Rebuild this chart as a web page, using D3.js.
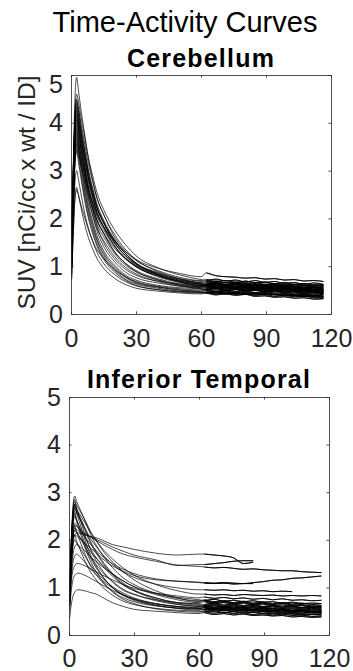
<!DOCTYPE html>
<html>
<head>
<meta charset="utf-8">
<script src="https://cdn.jsdelivr.net/npm/d3@7"></script>
<style>
  html, body { margin: 0; padding: 0; background: #fff; }
  svg { display: block; font-family: "Liberation Sans", Arial, Helvetica, sans-serif; }
</style>
</head>
<body>
<svg id="chart" width="353" height="671"></svg>
<script>
// Frame mid-times (minutes): dynamic uptake scan, then the late scan
const frameTimesEarly = [0.3, 1, 1.75, 2.6, 3.5, 4.5, 6, 8, 10, 12, 15, 20, 25, 30, 40, 50, 60];
const frameTimesLate = [62.5, 67, 71.5, 76, 80.5, 85, 89.5, 94, 98.5, 103, 107.5, 112, 116.5];

const xTicks = [0, 30, 60, 90, 120];
const yTicks = [0, 1, 2, 3, 4, 5];

// Cerebellum SUV, one row per subject (uptake scan)
const cerebellumEarly = [
  [1.37,3.04,4.41,4.95,4.66,4.31,3.85,3.26,2.80,2.42,2.09,1.62,1.32,1.12,0.91,0.77,0.70],
  [1.29,2.85,4.14,4.60,4.43,4.15,3.79,3.28,2.89,2.54,2.19,1.77,1.46,1.22,0.97,0.82,0.72],
  [1.26,2.79,4.05,4.50,4.28,3.96,3.54,3.00,2.58,2.23,1.93,1.50,1.23,1.04,0.85,0.73,0.66],
  [1.25,2.76,4.00,4.45,4.28,4.01,3.65,3.15,2.77,2.43,2.09,1.67,1.36,1.14,0.89,0.74,0.64],
  [1.60,2.90,3.96,4.40,4.19,3.88,3.47,2.95,2.54,2.21,1.91,1.50,1.23,1.05,0.87,0.74,0.68],
  [1.22,2.70,3.92,4.35,4.05,3.68,3.15,2.59,2.18,1.84,1.50,1.16,0.94,0.81,0.69,0.63,0.60],
  [1.00,2.67,3.87,4.30,4.09,3.78,3.38,2.86,2.46,2.13,1.83,1.43,1.16,0.99,0.80,0.68,0.62],
  [1.19,2.64,3.83,4.25,4.08,3.83,3.48,3.00,2.64,2.30,1.97,1.57,1.28,1.06,0.82,0.67,0.58],
  [1.70,2.90,3.78,4.20,4.00,3.70,3.31,2.82,2.43,2.11,1.82,1.43,1.18,1.01,0.83,0.71,0.65],
  [1.16,2.57,3.74,4.15,3.86,3.50,3.00,2.46,2.07,1.74,1.42,1.10,0.88,0.76,0.65,0.59,0.56],
  [2.00,3.00,3.70,4.10,3.94,3.70,3.37,2.91,2.56,2.25,1.93,1.55,1.27,1.06,0.83,0.69,0.60],
  [1.13,2.51,3.65,4.05,3.85,3.56,3.17,2.68,2.30,1.98,1.70,1.31,1.06,0.89,0.72,0.60,0.54],
  [1.12,2.48,3.60,4.00,3.85,3.61,3.29,2.85,2.52,2.21,1.91,1.54,1.27,1.07,0.85,0.71,0.63],
  [1.50,2.60,3.55,3.95,3.76,3.48,3.11,2.63,2.26,1.96,1.69,1.31,1.07,0.91,0.74,0.63,0.57],
  [1.09,2.42,3.51,3.90,3.63,3.29,2.82,2.31,1.94,1.64,1.33,1.03,0.82,0.71,0.60,0.55,0.52],
  [1.08,2.39,3.47,3.85,3.70,3.48,3.17,2.75,2.42,2.13,1.84,1.48,1.22,1.02,0.81,0.68,0.60],
  [1.06,2.36,3.42,3.80,3.62,3.35,2.99,2.53,2.18,1.88,1.62,1.27,1.03,0.88,0.71,0.61,0.55],
  [1.40,2.50,3.38,3.75,3.49,3.17,2.71,2.22,1.87,1.57,1.28,0.99,0.79,0.68,0.58,0.53,0.50],
  [1.04,2.29,3.33,3.70,3.56,3.34,3.04,2.64,2.33,2.05,1.77,1.42,1.17,0.99,0.78,0.66,0.58],
  [1.02,2.26,3.29,3.65,3.40,3.08,2.64,2.16,1.81,1.53,1.24,0.96,0.77,0.65,0.56,0.51,0.48],
  [1.80,2.70,3.25,3.60,3.43,3.17,2.83,2.40,2.07,1.79,1.54,1.21,0.98,0.84,0.68,0.58,0.53],
  [0.98,2.17,3.15,3.50,3.26,2.95,2.53,2.07,1.74,1.46,1.19,0.92,0.73,0.63,0.54,0.48,0.46],
  [0.97,2.14,3.10,3.45,3.32,3.12,2.86,2.49,2.20,1.95,1.70,1.38,1.16,0.99,0.80,0.69,0.62],
  [0.95,2.11,3.06,3.40,3.16,2.87,2.45,2.01,1.68,1.42,1.15,0.88,0.71,0.60,0.51,0.46,0.44],
  [0.84,1.86,2.70,3.00,2.80,2.54,2.18,1.80,1.52,1.29,1.06,0.83,0.68,0.59,0.51,0.47,0.45],
  [0.74,1.64,2.39,2.65,2.47,2.25,1.94,1.60,1.36,1.16,0.96,0.75,0.62,0.54,0.48,0.44,0.42],
  [0.73,1.61,2.34,2.60,2.48,2.30,2.07,1.77,1.53,1.34,1.17,0.93,0.78,0.67,0.57,0.50,0.46],
  [0.99,2.20,3.20,3.55,3.43,3.23,2.97,2.61,2.33,2.08,1.83,1.53,1.31,1.14,0.96,0.85,0.78]
];

// Cerebellum SUV, same subjects (late scan)
const cerebellumLate = [
  [0.72,0.68,0.70,0.66,0.69,0.65,0.67,0.63,0.66,0.62,0.64,0.60,0.61],
  [0.70,0.73,0.69,0.71,0.67,0.70,0.66,0.68,0.64,0.66,0.62,0.65,0.62],
  [0.68,0.64,0.66,0.63,0.65,0.61,0.62,0.60,0.61,0.58,0.59,0.56,0.57],
  [0.62,0.65,0.61,0.63,0.60,0.62,0.58,0.60,0.57,0.58,0.55,0.56,0.54],
  [0.66,0.69,0.65,0.67,0.64,0.66,0.62,0.64,0.61,0.62,0.59,0.60,0.58],
  [0.62,0.59,0.61,0.57,0.60,0.56,0.58,0.54,0.56,0.53,0.54,0.51,0.50],
  [0.60,0.63,0.59,0.61,0.58,0.60,0.56,0.58,0.55,0.56,0.53,0.54,0.52],
  [0.60,0.56,0.58,0.55,0.57,0.53,0.55,0.52,0.53,0.50,0.51,0.48,0.49],
  [0.63,0.66,0.62,0.64,0.61,0.63,0.59,0.61,0.58,0.59,0.56,0.57,0.55],
  [0.58,0.54,0.56,0.53,0.55,0.51,0.53,0.49,0.51,0.48,0.49,0.46,0.45],
  [0.58,0.61,0.57,0.59,0.56,0.58,0.54,0.56,0.53,0.54,0.51,0.52,0.50],
  [0.56,0.52,0.54,0.51,0.53,0.49,0.51,0.48,0.49,0.46,0.47,0.44,0.45],
  [0.61,0.64,0.60,0.62,0.59,0.61,0.57,0.59,0.56,0.57,0.54,0.55,0.52],
  [0.59,0.55,0.57,0.54,0.56,0.52,0.54,0.51,0.52,0.49,0.50,0.47,0.48],
  [0.50,0.53,0.49,0.51,0.48,0.50,0.46,0.48,0.45,0.46,0.43,0.44,0.42],
  [0.62,0.58,0.60,0.57,0.59,0.55,0.57,0.53,0.55,0.52,0.53,0.50,0.49],
  [0.53,0.56,0.52,0.54,0.51,0.53,0.49,0.51,0.48,0.49,0.46,0.47,0.45],
  [0.52,0.48,0.50,0.47,0.49,0.45,0.47,0.44,0.45,0.42,0.43,0.40,0.41],
  [0.56,0.59,0.55,0.57,0.54,0.56,0.52,0.54,0.51,0.52,0.49,0.50,0.48],
  [0.50,0.46,0.48,0.45,0.47,0.43,0.45,0.41,0.43,0.40,0.41,0.38,0.37],
  [0.51,0.54,0.50,0.52,0.49,0.51,0.47,0.49,0.46,0.47,0.44,0.45,0.43],
  [0.48,0.44,0.46,0.43,0.45,0.41,0.43,0.40,0.41,0.38,0.39,0.36,0.35],
  [0.60,0.63,0.61,0.64,0.60,0.63,0.60,0.62,0.59,0.62,0.60,0.61,0.60],
  [0.46,0.42,0.44,0.41,0.43,0.39,0.41,0.37,0.39,0.36,0.37,0.34,0.33],
  [0.43,0.46,0.42,0.44,0.41,0.43,0.40,0.41,0.38,0.39,0.37,0.38,0.36],
  [0.44,0.40,0.42,0.39,0.41,0.37,0.38,0.35,0.36,0.33,0.34,0.31,0.32],
  [0.44,0.47,0.43,0.45,0.42,0.44,0.41,0.42,0.39,0.40,0.38,0.39,0.38],
  [0.86,0.80,0.78,0.77,0.75,0.76,0.73,0.74,0.71,0.72,0.69,0.70,0.68]
];

// Inferior temporal SUV, one row per subject (uptake scan)
const temporalEarly = [
  [0.90,1.90,2.65,2.92,2.81,2.70,2.55,2.33,2.11,1.93,1.71,1.42,1.20,1.06,0.88,0.77,0.72],
  [0.80,1.80,2.55,2.85,2.67,2.52,2.30,2.02,1.78,1.60,1.38,1.12,0.94,0.85,0.74,0.68,0.66],
  [1.00,1.95,2.55,2.80,2.73,2.65,2.53,2.36,2.17,2.02,1.81,1.54,1.33,1.16,0.93,0.78,0.70],
  [0.75,1.70,2.45,2.75,2.64,2.54,2.39,2.17,1.96,1.79,1.58,1.30,1.09,0.95,0.78,0.67,0.62],
  [0.85,1.85,2.45,2.70,2.64,2.57,2.46,2.31,2.15,2.02,1.84,1.60,1.41,1.26,1.06,0.93,0.86],
  [0.70,1.60,2.35,2.65,2.57,2.48,2.36,2.19,2.02,1.89,1.72,1.49,1.32,1.21,1.07,0.99,0.95],
  [0.65,1.55,2.30,2.60,2.44,2.30,2.10,1.83,1.61,1.45,1.25,1.00,0.84,0.75,0.65,0.60,0.58],
  [0.95,1.70,2.25,2.50,2.41,2.31,2.18,2.00,1.81,1.66,1.48,1.24,1.05,0.93,0.78,0.68,0.64],
  [0.80,1.50,1.95,2.10,2.08,2.04,1.98,1.90,1.82,1.75,1.62,1.45,1.34,1.25,1.16,1.13,1.11],
  [0.90,1.60,2.00,2.10,2.15,2.14,2.12,2.09,2.07,2.05,2.00,1.90,1.85,1.80,1.72,1.68,1.70],
  [0.85,1.65,2.05,2.20,2.22,2.18,2.14,2.10,2.06,2.02,1.96,1.85,1.76,1.68,1.58,1.46,1.48],
  [0.95,1.75,2.15,2.30,2.28,2.24,2.18,2.12,2.06,2.00,1.92,1.80,1.70,1.64,1.55,1.47,1.44],
  [0.60,1.10,1.35,1.45,1.50,1.50,1.48,1.44,1.39,1.34,1.27,1.16,1.06,0.98,0.88,0.82,0.78],
  [0.36,0.62,0.80,0.90,0.94,0.95,0.94,0.92,0.89,0.87,0.80,0.68,0.60,0.54,0.50,0.47,0.45],
  [0.55,0.90,1.15,1.25,1.29,1.30,1.28,1.24,1.19,1.14,1.06,0.94,0.84,0.76,0.66,0.60,0.56],
  [0.70,1.40,2.05,2.30,2.16,2.04,1.86,1.64,1.44,1.30,1.13,0.92,0.78,0.70,0.61,0.57,0.55],
  [1.00,1.60,2.05,2.25,2.17,2.09,1.97,1.80,1.64,1.51,1.34,1.13,0.96,0.86,0.72,0.64,0.60],
  [0.75,1.50,2.00,2.20,2.15,2.09,2.00,1.88,1.74,1.64,1.49,1.29,1.14,1.01,0.85,0.74,0.68],
  [0.60,1.30,1.85,2.10,1.97,1.86,1.70,1.49,1.32,1.19,1.03,0.84,0.71,0.64,0.56,0.52,0.50],
  [0.85,1.50,1.85,2.00,1.93,1.86,1.76,1.61,1.47,1.35,1.21,1.02,0.88,0.78,0.66,0.59,0.56],
  [0.70,1.30,1.65,1.85,1.90,1.88,1.82,1.74,1.64,1.56,1.45,1.28,1.13,1.02,0.87,0.79,0.74],
  [0.60,1.15,1.50,1.65,1.70,1.67,1.60,1.49,1.38,1.29,1.16,0.99,0.85,0.75,0.63,0.56,0.52],
  [0.80,1.75,2.45,2.75,2.57,2.42,2.20,1.91,1.67,1.49,1.27,1.00,0.83,0.73,0.62,0.56,0.54],
  [0.90,1.70,2.30,2.55,2.38,2.24,2.03,1.76,1.54,1.37,1.16,0.91,0.75,0.66,0.55,0.50,0.48],
  [1.10,1.90,2.45,2.70,2.60,2.49,2.34,2.13,1.92,1.76,1.55,1.27,1.06,0.93,0.75,0.65,0.60],
  [0.80,1.60,2.10,2.35,2.30,2.24,2.15,2.02,1.90,1.80,1.67,1.50,1.38,1.29,1.18,1.13,1.10]
];

// Inferior temporal SUV, same subjects (late scan; null where the scan stopped early)
const temporalLate = [
  [0.74,0.70,0.72,0.68,0.71,0.67,0.69,0.66,0.68,0.65,0.67,0.64,0.66],
  [0.64,0.67,0.63,0.65,0.62,0.64,0.60,0.62,0.59,0.61,0.58,0.60,0.58],
  [0.72,0.68,0.70,0.67,0.69,0.65,0.67,0.64,0.66,0.63,0.64,0.61,0.62],
  [0.60,0.63,0.59,0.61,0.58,0.60,0.57,0.59,0.56,0.57,0.55,0.56,0.55],
  [0.86,0.84,0.85,0.83,0.85,0.84,0.83,0.84,0.82,0.83,0.82,0.83,0.82],
  [0.95,0.94,0.95,0.93,0.94,0.92,0.93,0.91,0.92,0.91,null,null,null],
  [0.60,0.56,0.58,0.55,0.57,0.53,0.55,0.52,0.54,0.51,0.52,0.49,0.50],
  [0.62,0.65,0.61,0.63,0.60,0.62,0.59,0.61,0.58,0.59,0.57,0.58,0.57],
  [1.10,1.09,1.10,1.09,1.08,1.10,1.12,1.15,1.16,1.19,1.20,1.22,1.24],
  [1.70,1.68,1.66,1.62,1.50,1.53,null,null,null,null,null,null,null],
  [1.48,1.50,1.52,1.55,1.56,1.56,null,null,null,null,null,null,null],
  [1.43,1.41,1.42,1.40,1.38,1.39,1.37,1.36,1.35,1.35,1.33,1.32,1.31],
  [0.80,0.77,0.79,0.76,0.78,0.75,0.77,0.74,0.76,0.73,0.74,0.72,0.73],
  [0.47,0.43,0.45,0.42,0.44,0.41,0.42,0.40,0.41,0.38,0.39,0.37,0.38],
  [0.54,0.57,0.53,0.55,0.52,0.54,0.51,0.52,0.50,0.51,0.49,0.50,0.48],
  [0.57,0.53,0.55,0.52,0.54,0.50,0.52,0.49,0.51,0.48,0.49,0.46,0.47],
  [0.58,0.61,0.57,0.59,0.56,0.58,0.55,0.56,0.54,0.55,0.52,0.54,0.53],
  [0.70,0.66,0.68,0.65,0.67,0.63,0.65,0.62,0.63,0.61,0.62,0.59,0.60],
  [0.48,0.51,0.47,0.49,0.46,0.48,0.45,0.46,0.44,0.45,0.42,0.43,0.42],
  [0.58,0.54,0.56,0.53,0.55,0.51,0.53,0.50,0.52,0.49,0.50,0.48,0.49],
  [0.72,0.75,0.71,0.73,0.70,0.72,0.69,0.70,0.67,0.69,0.66,0.67,0.66],
  [0.54,0.50,0.52,0.49,0.51,0.47,0.49,0.46,0.47,0.44,0.45,0.43,0.44],
  [0.52,0.55,0.51,0.53,0.50,0.52,0.49,0.50,0.47,0.48,0.46,0.47,0.46],
  [0.50,0.46,0.48,0.45,0.47,0.43,0.45,0.42,0.44,0.41,0.42,0.39,0.40],
  [0.62,0.58,0.60,0.57,0.59,0.55,0.57,0.54,0.55,0.52,0.53,0.51,0.52],
  [1.09,1.08,1.09,1.07,1.08,1.08,null,null,null,null,null,null,null]
];

const panels = [
  { title: "Cerebellum", early: cerebellumEarly, late: cerebellumLate,
    box: { left: 71, right: 331, top: 75, bottom: 314 }, titleY: 66.7, xLabelPad: 15 },
  { title: "Inferior Temporal", early: temporalEarly, late: temporalLate,
    box: { left: 69, right: 329, top: 397, bottom: 635 }, titleY: 388, xLabelPad: 13.8 }
];

const textColor = "#262626";
const axisColor = "#262626";
const tickLen = 2.6;

const svg = d3.select("#chart");
svg.append("rect").attr("width", 353).attr("height", 671).attr("fill", "#fff");

// Figure title
svg.append("text")
  .attr("x", 185).attr("y", 31.7)
  .attr("text-anchor", "middle")
  .attr("font-size", 29)
  .attr("fill", "#000")
  .text("Time-Activity Curves");

// Shared y-axis label beside the upper panel
svg.append("text")
  .attr("transform", "translate(35,192.5) rotate(-90)")
  .attr("text-anchor", "middle")
  .attr("font-size", 24.5)
  .attr("fill", textColor)
  .text("SUV [nCi/cc x wt / ID]");

panels.forEach((p, k) => {
  const b = p.box;
  const x = d3.scaleLinear().domain([0, 120]).range([b.left, b.right]);
  const y = d3.scaleLinear().domain([0, 5]).range([b.bottom, b.top]);

  const clipId = "plot-clip-" + k;
  svg.append("clipPath").attr("id", clipId)
    .append("rect")
    .attr("x", b.left).attr("y", b.top)
    .attr("width", b.right - b.left).attr("height", b.bottom - b.top);

  // One curve per subject: uptake frames followed by late frames
  const series = p.early.map((row, i) =>
    frameTimesEarly.map((t, j) => [t, row[j]])
      .concat(frameTimesLate.map((t, j) => [t, p.late[i][j]]))
      .filter(d => d[1] != null)
  );
  // Late-scan frames only, drawn a little heavier where the short frames are noisy
  const lateSeries = series.map(s => s.filter(d => d[0] >= frameTimesLate[0]));

  const line = d3.line()
    .x(d => x(d[0]))
    .y(d => y(d[1]))
    .curve(d3.curveMonotoneX);

  const plot = svg.append("g").attr("clip-path", `url(#${clipId})`);
  plot.append("g")
    .selectAll("path")
    .data(series)
    .join("path")
    .attr("d", line)
    .attr("fill", "none")
    .attr("stroke", "#000")
    .attr("stroke-width", 0.7)
    .attr("stroke-linejoin", "round");
  plot.append("g")
    .selectAll("path")
    .data(lateSeries)
    .join("path")
    .attr("d", line)
    .attr("fill", "none")
    .attr("stroke", "#000")
    .attr("stroke-width", 0.9)
    .attr("stroke-linejoin", "round");

  // Box axes with inward ticks on all four sides
  const gBottom = svg.append("g")
    .attr("transform", `translate(0,${b.bottom})`)
    .call(d3.axisBottom(x).tickValues(xTicks).tickFormat(d3.format("d"))
      .tickSize(-tickLen).tickSizeOuter(0).tickPadding(p.xLabelPad));
  const gLeft = svg.append("g")
    .attr("transform", `translate(${b.left},0)`)
    .call(d3.axisLeft(y).tickValues(yTicks).tickFormat(d3.format("d"))
      .tickSize(-tickLen).tickSizeOuter(0).tickPadding(8));
  const gTop = svg.append("g")
    .attr("transform", `translate(0,${b.top})`)
    .call(d3.axisTop(x).tickValues(xTicks).tickSize(-tickLen).tickSizeOuter(0).tickFormat(""));
  const gRight = svg.append("g")
    .attr("transform", `translate(${b.right},0)`)
    .call(d3.axisRight(y).tickValues(yTicks).tickSize(-tickLen).tickSizeOuter(0).tickFormat(""));

  [gBottom, gLeft, gTop, gRight].forEach(g => {
    g.attr("font-family", null).attr("font-size", null);
    g.selectAll(".domain").attr("stroke", axisColor).attr("stroke-width", 0.8);
    g.selectAll(".tick line").attr("stroke", axisColor).attr("stroke-width", 0.8);
    g.selectAll(".tick text").attr("fill", textColor).attr("font-size", 25);
  });

  // The top label of the upper panel sits just inside the box edge
  if (k === 0) {
    gLeft.selectAll(".tick text").filter(d => d === 5).attr("transform", "translate(0,9)");
  }

  // Panel title
  svg.append("text")
    .attr("x", (b.left + b.right) / 2).attr("y", p.titleY)
    .attr("text-anchor", "middle")
    .attr("font-size", 25)
    .attr("font-weight", "bold")
    .attr("letter-spacing", 1.2)
    .attr("fill", "#000")
    .text(p.title);
});
</script>
</body>
</html>
